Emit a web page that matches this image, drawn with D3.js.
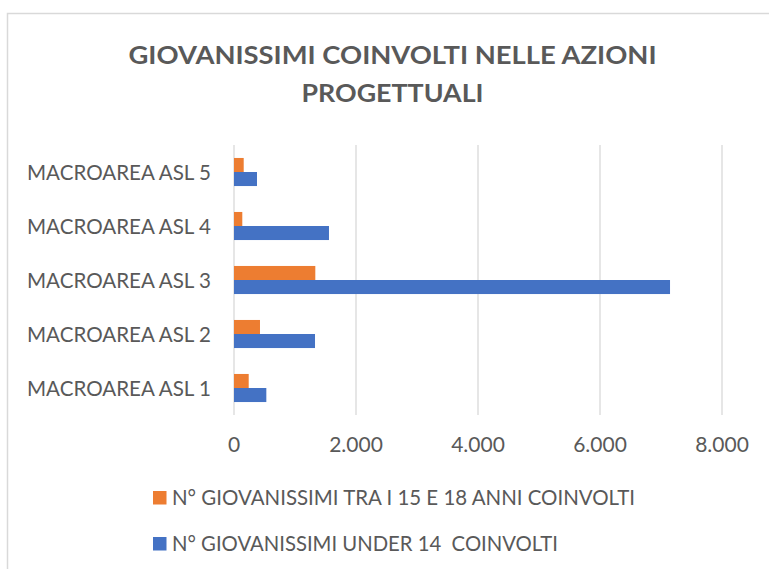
<!DOCTYPE html>
<html>
<head>
<meta charset="utf-8">
<script src="https://cdn.jsdelivr.net/npm/d3@7"></script>
<style>
  html, body { margin: 0; padding: 0; background: #fff; }
  svg { display: block; }
  text { font-family: Lato, "Open Sans", sans-serif; fill: #595959; }
</style>
</head>
<body>
<svg id="chart" width="769" height="569"></svg>
<script>
const categories = ["MACROAREA ASL 1", "MACROAREA ASL 2", "MACROAREA ASL 3", "MACROAREA ASL 4", "MACROAREA ASL 5"];
const seriesNames = ["N° GIOVANISSIMI TRA I 15 E 18 ANNI COINVOLTI", "N° GIOVANISSIMI UNDER 14  COINVOLTI"];
const age15to18 = [241, 426, 1333, 136, 159];
const under14 = [530, 1328, 7148, 1557, 377];
const tickValues = [0, 2000, 4000, 6000, 8000];
const titleLines = ["GIOVANISSIMI COINVOLTI NELLE AZIONI", "PROGETTUALI"];
const colors = ["#ED7D31", "#4472C4"];

const svg = d3.select("#chart");

// chart area border
svg.append("rect")
  .attr("x", 7.5).attr("y", 13.5)
  .attr("width", 900).attr("height", 700)
  .attr("fill", "#fff").attr("stroke", "#d9d9d9").attr("stroke-width", 1.5);

function fit(sel, w) {
  sel.each(function () {
    const n = this.getComputedTextLength();
    if (Math.abs(n - w) > 1) {
      d3.select(this).attr("textLength", w).attr("lengthAdjust", "spacingAndGlyphs");
    }
  });
}

// title
const titleY = [63.5, 101.7];
const titleW = [528, 182];
titleLines.forEach((t, i) => {
  const el = svg.append("text")
    .attr("x", 392.5).attr("y", titleY[i])
    .attr("text-anchor", "middle")
    .style("font-size", "25.5px").style("font-weight", "bold")
    .text(t);
  fit(el, titleW[i]);
});

const x = d3.scaleLinear().domain([0, 8000]).range([234, 722]);
const y = d3.scaleBand().domain(categories.slice().reverse()).range([145, 415]).paddingInner(0.48).paddingOuter(0.24);
const sub = d3.scaleBand().domain([0, 1]).range([0, y.bandwidth()]);

// gridlines
svg.append("g").selectAll("line").data(tickValues).join("line")
  .attr("x1", d => x(d)).attr("x2", d => x(d))
  .attr("y1", 145).attr("y2", 415)
  .attr("stroke", "#d9d9d9").attr("stroke-width", 1.3);

// bars
const seriesData = [age15to18, under14];
seriesData.forEach((vals, s) => {
  svg.append("g").selectAll("rect").data(vals).join("rect")
    .attr("x", x(0))
    .attr("y", (d, i) => y(categories[i]) + sub(s))
    .attr("width", d => x(d) - x(0))
    .attr("height", sub.bandwidth())
    .attr("fill", colors[s]);
});

// category labels
svg.append("g").selectAll("text").data(categories).join("text")
  .attr("x", 211)
  .attr("y", d => y(d) + y.bandwidth() / 2 + 7.5)
  .attr("text-anchor", "end")
  .style("font-size", "21px")
  .text(d => d)
  .call(fit, 184);

// x tick labels
const fmt = d3.formatLocale({ decimal: ",", thousands: ".", grouping: [3], currency: ["", "€"] }).format(",");
svg.append("g").selectAll("text").data(tickValues).join("text")
  .attr("x", d => x(d))
  .attr("y", 452)
  .attr("text-anchor", "middle")
  .style("font-size", "21px")
  .text(d => fmt(d));

// legend
const legY = [491, 537];
const legW = [463, 386];
seriesNames.forEach((name, i) => {
  svg.append("rect")
    .attr("x", 153).attr("y", legY[i])
    .attr("width", 13.5).attr("height", 13.5)
    .attr("fill", colors[i]);
  const el = svg.append("text")
    .attr("x", 172).attr("y", legY[i] + 14)
    .style("font-size", "20.5px")
    .style("white-space", "pre")
    .attr("xml:space", "preserve")
    .text(name);
  fit(el, legW[i]);
});
</script>
</body>
</html>
